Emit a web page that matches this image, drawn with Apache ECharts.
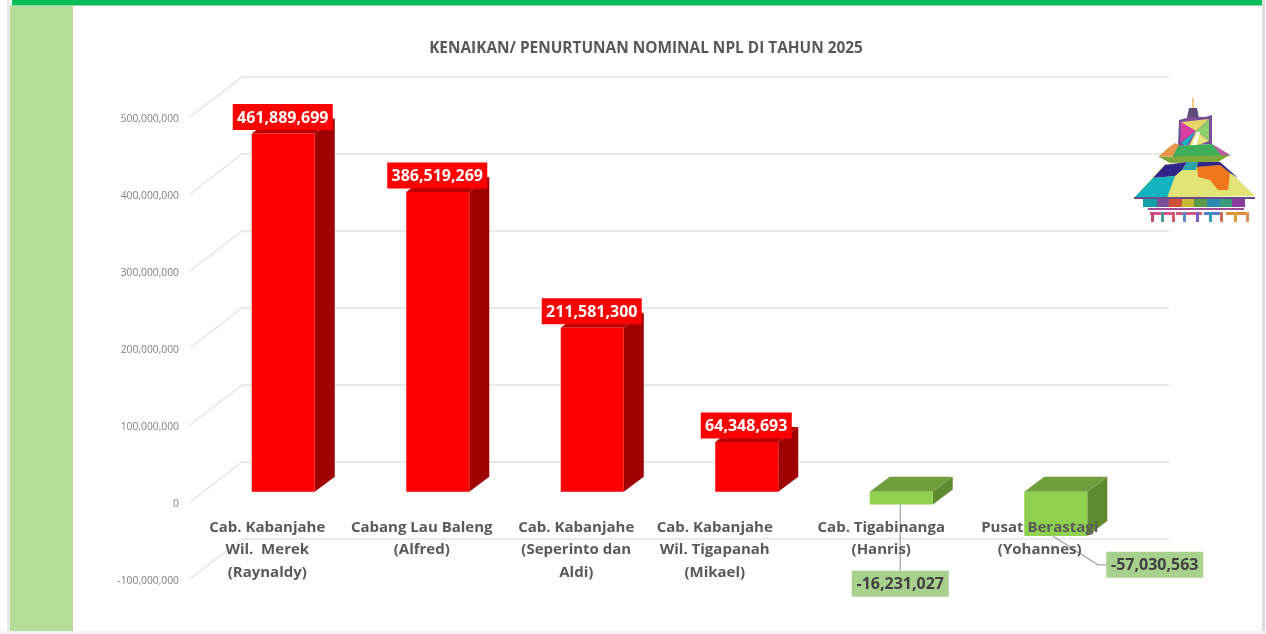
<!DOCTYPE html>
<html>
<head>
<meta charset="utf-8">
<style>html,body{margin:0;padding:0;background:#fff}#c{width:1266px;height:634px;filter:blur(0.45px)}</style>
<script src="https://cdn.jsdelivr.net/npm/echarts@6/dist/echarts.min.js"></script>
</head>
<body>
<div id="c"></div>
<script>
const chartTitle = 'KENAIKAN/ PENURTUNAN NOMINAL NPL DI TAHUN 2025';
const categories = [
  'Cab. Kabanjahe\nWil.  Merek\n(Raynaldy)',
  'Cabang Lau Baleng\n(Alfred)',
  'Cab. Kabanjahe\n(Seperinto dan\nAldi)',
  'Cab. Kabanjahe\nWil. Tigapanah\n(Mikael)',
  'Cab. Tigabinanga\n(Hanris)',
  'Pusat Berastagi\n(Yohannes)'
];
const values = [461889699, 386519269, 211581300, 64348693, -16231027, -57030563];
const gridTicks = [-100000000, 0, 100000000, 200000000, 300000000, 400000000, 500000000];

const fmt = v => v.toLocaleString('en-US');
const FONT = '"Open Sans", "Noto Sans", sans-serif';

// decoration: page frame
function rect(x, y, w, h, fill, z) { return {type:'rect', z:z, silent:true, shape:{x,y,width:w,height:h}, style:{fill}}; }
const frame = [
  rect(7, 0, 3, 631, '#e9e9e9', -5),
  rect(0, 631, 1266, 3, '#f2f2f2', -5),
  rect(1262, 0, 3, 631, '#dcdcdc', -5),
  rect(10, 5, 63, 626, '#b5dd97', -4),
  rect(12, 0, 1250, 5, '#0bbd5a', -4),
  rect(12, 5, 1250, 1, '#7fe0a5', -4)
];
// decoration: the small roof emblem
function poly(points, fill) { return {type:'polygon', z:6, silent:true, shape:{points}, style:{fill}}; }
const emblem = [
  rect(1192, 98, 2, 10, '#f2cf80', 6),
  poly([[1189,108],[1197,108],[1199,118],[1187,118]], '#5b4a7a'),
  poly([[1179,120],[1190,117],[1205,117],[1212,115],[1212,144],[1178,146]], '#7a4f9a'),
  poly([[1181,122],[1196,131],[1181,142]], '#d93fa0'),
  poly([[1181,122],[1209,119],[1196,131]], '#e8d66a'),
  poly([[1209,119],[1209,141],[1196,131]], '#8fcf6a'),
  poly([[1181,143],[1196,131],[1186,146]], '#14b4c4'),
  poly([[1196,131],[1209,141],[1196,146],[1189,146]], '#e5e37a'),
  poly([[1192,146],[1197,132],[1200,132],[1196,146]], '#ffffff'),
  poly([[1158,157],[1168,148],[1175,143],[1180,146],[1184,156]], '#e8954a'),
  poly([[1178,146],[1212,144],[1230,155],[1218,158],[1172,158]], '#3fae5a'),
  poly([[1212,144],[1230,155],[1222,156]], '#c05aa8'),
  poly([[1159,157],[1230,155],[1218,162],[1170,163]], '#7fa83a'),
  poly([[1134,198],[1165,164],[1220,162],[1255,196]], '#e2e477'),
  poly([[1153,178],[1165,165],[1187,162],[1182,170],[1175,176]], '#33248a'),
  poly([[1134,198],[1153,178],[1175,176],[1167,198]], '#14b4be'),
  poly([[1187,162],[1198,162],[1196,170],[1182,170]], '#2aa3a8'),
  poly([[1197,167],[1220,165],[1230,173],[1228,190],[1218,190],[1210,180],[1198,177]], '#f0761e'),
  poly([[1198,162],[1220,162],[1238,178],[1230,173],[1220,165],[1197,167]], '#33248a'),
  rect(1134, 197, 121, 2, '#6a4a8a', 6),
  rect(1143, 199, 14, 8, '#14a0a8', 6), rect(1157, 199, 12, 8, '#7a4f9a', 6),
  rect(1169, 199, 13, 8, '#d0503a', 6), rect(1182, 199, 12, 8, '#c8b83a', 6),
  rect(1194, 199, 13, 8, '#5a9a4a', 6), rect(1207, 199, 13, 8, '#2a8ab0', 6),
  rect(1220, 199, 12, 8, '#3a9a7a', 6), rect(1232, 199, 13, 8, '#8a3a9a', 6),
  rect(1148, 208, 96, 2, '#a04a9a', 6),
  rect(1150, 212, 24, 3, '#e0528a', 6), rect(1176, 212, 26, 3, '#d05a7a', 6),
  rect(1204, 212, 16, 3, '#5a7ad0', 6), rect(1226, 212, 20, 3, '#e08a3a', 6),
  rect(1151, 212, 3, 10, '#c04a7a', 6), rect(1161, 212, 3, 10, '#4a9a9a', 6),
  rect(1172, 212, 3, 10, '#d05a6a', 6), rect(1183, 212, 3, 10, '#5a8ad0', 6),
  rect(1196, 212, 3, 10, '#7a5ac0', 6), rect(1209, 212, 3, 10, '#3a9ac0', 6),
  rect(1220, 212, 3, 10, '#d0705a', 6), rect(1234, 212, 3, 10, '#e0a03a', 6),
  rect(1246, 212, 3, 10, '#e09050', 6)
];

const chart = echarts.init(document.getElementById('c'), null, {renderer:'canvas'});

const BAR_W = 63, DEPTH_X = 20, DEPTH_Y = 15, SHIFT_X = 16;
const palette = {
  up:   {front:'#ff0000', top:'#b80000', side:'#a00000', label:'#ff0000', text:'#ffffff'},
  down: {front:'#8fd14f', top:'#6f9f3a', side:'#5f8a2f', label:'#a9d18e', text:'#404040'}
};
// label centre relative to the bar's foot on the zero line, for the two negative bars
const negLabelShift = {4:[-1, 92], 5:[99, 73]};

// the original nudges two category labels to the left; right padding moves the centred text
const labelPadRight = [0, 0, 0, 32, 8, 0];
const catStyle = {fontFamily:FONT, fontSize:15, fontWeight:700, color:'#595959', lineHeight:22.5};
const catRich = {};
labelPadRight.forEach((p, i) => { catRich['c' + i] = {...catStyle, padding:[0, p, 0, 0]}; });
function catFormatter(value, index) {
  return value.split('\n').map(line => '{c' + index + '|' + line + '}').join('\n');
}

function renderBar(params, api) {
  const i = api.value(0), v = api.value(1);
  const base = api.coord([i, 0]), end = api.coord([i, v]);
  const cx = base[0] + SHIFT_X;
  const l = cx - BAR_W/2, r = cx + BAR_W/2;
  const topY = Math.min(base[1], end[1]), botY = Math.max(base[1], end[1]);
  const c = v >= 0 ? palette.up : palette.down;
  const kids = [
    {type:'polygon', shape:{points:[[r,topY],[r+DEPTH_X,topY-DEPTH_Y],[r+DEPTH_X,botY-DEPTH_Y],[r,botY]]}, style:{fill:c.side}},
    {type:'polygon', shape:{points:[[l,topY],[l+DEPTH_X,topY-DEPTH_Y],[r+DEPTH_X,topY-DEPTH_Y],[r,topY]]}, style:{fill:c.top}},
    {type:'rect', shape:{x:l,y:topY,width:BAR_W,height:botY-topY}, style:{fill:c.front}}
  ];
  let lx, ly, w;
  if (v >= 0) {
    lx = cx - 0.5; ly = topY - 16.5; w = 100;
    if (v < 100000000) w = 91;
  } else {
    const s = negLabelShift[i];
    lx = cx + s[0]; ly = base[1] + s[1]; w = 97;
    const pts = i === 4
      ? [[cx - 1, botY], [cx - 1, ly - 13]]
      : [[cx - 3, botY], [cx + 42, ly], [lx - w/2, ly]];
    kids.push({type:'polyline', shape:{points:pts}, style:{stroke:'#a6a6a6', lineWidth:1.3, fill:null}});
  }
  kids.push({type:'rect', shape:{x:lx-w/2, y:ly-13, width:w, height:26}, style:{fill:c.label}});
  kids.push({type:'text', style:{x:lx, y:ly+1, text:fmt(v), fill:c.text, font:'700 16px '+FONT, align:'center', verticalAlign:'middle'}});
  return {type:'group', children:kids};
}

function renderGrid(params, api) {
  const v = api.value(0);
  const p = api.coord([0, v]);
  const x0 = params.coordSys.x, x1 = x0 + params.coordSys.width;
  return {type:'polyline',
    shape:{points:[[x0, p[1]], [x0+52, p[1]-40], [x1+52, p[1]-40]]},
    style:{stroke:'#e4e4e4', lineWidth:1.3, fill:null}};
}

chart.setOption({
  animation:false,
  backgroundColor:'#ffffff',
  title:{text:chartTitle, left:641, top:44, textAlign:'center', textVerticalAlign:'middle',
    textStyle:{fontFamily:FONT, fontSize:15.4, fontWeight:700, color:'#595959'}},
  graphic:{elements:[...frame, ...emblem]},
  grid:{left:190, right:149, top:117, bottom:55, containLabel:false, outerBoundsMode:'none'},
  xAxis:{type:'category', data:categories, z:10, position:'bottom',
    axisLine:{show:true, onZero:false, lineStyle:{opacity:0}}, axisTick:{show:false}, splitLine:{show:false},
    axisLabel:{interval:0, margin:-63, ...catStyle, formatter:catFormatter, rich:catRich}},
  yAxis:[
    {type:'value', min:-100000000, max:500000000, interval:100000000,
     axisLine:{show:false}, axisTick:{show:false}, splitLine:{show:false},
     axisLabel:{margin:11, fontFamily:FONT, fontSize:10.3, color:'#808080', verticalAlign:'top', lineHeight:4, formatter:v=>fmt(v)}},
    // the columns stand a little behind the axis plane, so they use their own hidden scale
    {type:'value', show:false, min:-112400000, max:483200000, splitLine:{show:false}}
  ],
  series:[
    {type:'custom', z:1, silent:true, yAxisIndex:0, clip:false, data:gridTicks.map(v=>[v]),
     encode:{y:0}, renderItem:renderGrid},
    {type:'custom', z:2, silent:true, yAxisIndex:1, clip:false, data:values.map((v,i)=>[i,v]),
     encode:{x:0,y:1}, renderItem:renderBar}
  ]
});
</script>
</body>
</html>
